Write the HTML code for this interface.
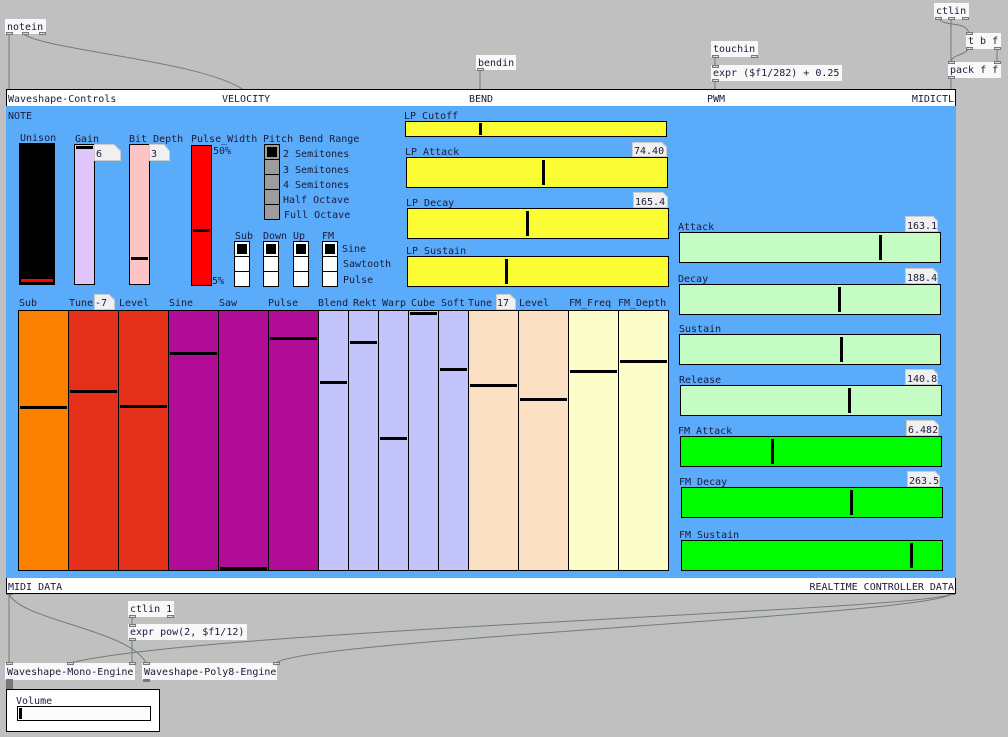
<!DOCTYPE html>
<html><head><meta charset="utf-8"><style>
html,body{margin:0;padding:0;background:#c0c0c0;}
svg{display:block}
text{font-family:"DejaVu Sans Mono","Liberation Mono",monospace;font-size:10px;fill:#1a1a3a}
</style></head><body>
<svg width="1008" height="737" viewBox="0 0 1008 737" xmlns="http://www.w3.org/2000/svg">
<rect width="1008" height="737" fill="#c0c0c0"/>
<!-- connections top -->
<g fill="none" stroke="#6f7f6f" stroke-width="1">
<line x1="9" y1="33" x2="9" y2="90"/>
<path d="M22 33 C 40 50, 200 60, 244 90"/>
<line x1="480" y1="69" x2="480" y2="90"/>
<line x1="715" y1="56" x2="715" y2="65"/>
<line x1="715" y1="80" x2="715" y2="90"/>
<line x1="951" y1="18" x2="951" y2="62"/>
<path d="M938 18 C 945 28, 965 20, 969 33"/>
<path d="M969 48 C 965 56, 952 54, 951 62"/>
<line x1="997" y1="48" x2="997" y2="62"/>
<line x1="951" y1="77" x2="951" y2="90"/>
<!-- bottom -->
<line x1="9" y1="594" x2="9" y2="663"/>
<path d="M9 594 C 20 620, 130 630, 146 663"/>
<line x1="132" y1="616" x2="132" y2="624"/>
<line x1="132" y1="639" x2="132" y2="663"/>
<path d="M951 594 C 930 610, 200 630, 70 663"/>
<path d="M951 594 C 930 615, 300 640, 276 663"/>
</g>
<!-- top objects -->
<g fill="#f8f8f8" stroke="none">
<rect x="5" y="19" width="41" height="15"/>
<rect x="476" y="55" width="40" height="15"/>
<rect x="711" y="41" width="47" height="16"/>
<rect x="711" y="65" width="131" height="16"/>
<rect x="934" y="3" width="35" height="16"/>
<rect x="966" y="33" width="35" height="16"/>
<rect x="948" y="62" width="53" height="16"/>
<rect x="128" y="601" width="46" height="16"/>
<rect x="128" y="624" width="119" height="16"/>
<rect x="5" y="663" width="130" height="17"/>
<rect x="142" y="663" width="135" height="17"/>
</g>
<text x="7" y="30">notein</text>
<text x="478" y="66">bendin</text>
<text x="713" y="52">touchin</text>
<text x="713" y="76">expr ($f1/282) + 0.25</text>
<text x="936" y="14">ctlin</text>
<text x="968" y="44">t b f</text>
<text x="950" y="73">pack f f</text>
<text x="130" y="612">ctlin 1</text>
<text x="130" y="635">expr pow(2, $f1/12)</text>
<text x="7" y="675">Waveshape-Mono-Engine</text>
<text x="144" y="675">Waveshape-Poly8-Engine</text>
<!-- inlets/outlets -->
<g fill="#ddd" stroke="#777" stroke-width="1">
<rect x="6.5" y="32.5" width="6" height="2"/><rect x="22.5" y="32.5" width="6" height="2"/><rect x="39.5" y="32.5" width="6" height="2"/>
<rect x="477.5" y="68.5" width="6" height="2"/>
<rect x="712.5" y="55.5" width="6" height="2"/><rect x="751.5" y="55.5" width="6" height="2"/>
<rect x="712.5" y="65.5" width="6" height="2"/><rect x="712.5" y="79.5" width="6" height="2"/>
<rect x="935.5" y="17.5" width="6" height="2"/><rect x="948.5" y="17.5" width="6" height="2"/><rect x="962.5" y="17.5" width="6" height="2"/>
<rect x="966.5" y="32.5" width="6" height="2"/><rect x="966.5" y="47.5" width="6" height="2"/><rect x="994.5" y="47.5" width="6" height="2"/>
<rect x="948.5" y="61.5" width="6" height="2"/><rect x="994.5" y="61.5" width="6" height="2"/><rect x="948.5" y="76.5" width="6" height="2"/>
<rect x="6.5" y="89.5" width="6" height="2"/><rect x="241.5" y="89.5" width="6" height="2"/><rect x="477.5" y="89.5" width="6" height="2"/><rect x="712.5" y="89.5" width="6" height="2"/><rect x="948.5" y="89.5" width="6" height="2"/>
<rect x="6.5" y="592.5" width="6" height="2"/><rect x="948.5" y="592.5" width="6" height="2"/>
<rect x="129.5" y="615.5" width="6" height="2"/><rect x="167.5" y="615.5" width="6" height="2"/>
<rect x="129.5" y="624.5" width="6" height="2"/><rect x="129.5" y="638.5" width="6" height="2"/>
<rect x="6.5" y="662.5" width="6" height="2"/><rect x="67.5" y="662.5" width="6" height="2"/><rect x="129.5" y="662.5" width="6" height="2"/>
<rect x="143.5" y="662.5" width="6" height="2"/><rect x="273.5" y="662.5" width="6" height="2"/>
</g>
<rect x="6" y="679" width="7" height="11" fill="#777"/>
<rect x="143" y="679" width="7" height="3" fill="#777"/>
<!-- main GOP -->
<rect x="6.5" y="89.5" width="949" height="504" fill="#fff" stroke="#000"/>
<rect x="6" y="106" width="950" height="472" fill="#5aacfa"/>
<text x="8" y="102">Waveshape-Controls</text>
<text x="222" y="102">VELOCITY</text>
<text x="469" y="102">BEND</text>
<text x="707" y="102">PWM</text>
<text x="954" y="102" text-anchor="end">MIDICTL</text>
<text x="8" y="119">NOTE</text>
<text x="8" y="590">MIDI DATA</text>
<text x="954" y="590" text-anchor="end">REALTIME CONTROLLER DATA</text>

<!-- top left sliders -->
<text x="20" y="141">Unison</text>
<rect x="19.5" y="143.5" width="35" height="141" fill="#000" stroke="#000"/>
<rect x="21" y="279" width="32" height="3" fill="#f00"/>
<text x="75" y="142">Gain</text>
<rect x="74.5" y="144.5" width="20" height="140" fill="#e0c4fc" stroke="#000"/>
<rect x="76" y="146" width="17" height="3" fill="#000"/>
<path d="M94.5 144.5 H114 L120.5 151 V160.5 H94.5 Z" fill="#f0f0f0" stroke="#ccc"/>
<text x="96" y="157">6</text>
<text x="129" y="142">Bit_Depth</text>
<rect x="129.5" y="144.5" width="20" height="140" fill="#fcc4c4" stroke="#000"/>
<rect x="131" y="257" width="17" height="3" fill="#000"/>
<path d="M149.5 144.5 H164 L169.5 151 V160.5 H149.5 Z" fill="#f0f0f0" stroke="#ccc"/>
<text x="151" y="157">3</text>
<text x="191" y="142">Pulse_Width</text>
<rect x="191.5" y="145.5" width="20" height="140" fill="#f00" stroke="#000"/>
<rect x="193" y="229" width="17" height="3" fill="#000"/>
<text x="213" y="154">50%</text>
<text x="212" y="284">5%</text>
<!-- pitch bend radio -->
<text x="263" y="142">Pitch Bend Range</text>
<g stroke="#000" fill="#9c9c9c">
<rect x="264.5" y="144.5" width="15" height="15"/><rect x="264.5" y="159.5" width="15" height="15"/><rect x="264.5" y="174.5" width="15" height="15"/><rect x="264.5" y="189.5" width="15" height="15"/><rect x="264.5" y="204.5" width="15" height="15"/>
</g>
<rect x="267" y="147" width="10" height="10" fill="#000"/>
<text x="283" y="157">2 Semitones</text>
<text x="283" y="173">3 Semitones</text>
<text x="283" y="188">4 Semitones</text>
<text x="283" y="203">Half Octave</text>
<text x="284" y="218">Full Octave</text>
<!-- small radios -->
<text x="235" y="239">Sub</text><text x="263" y="239">Down</text><text x="293" y="239">Up</text><text x="322" y="239">FM</text>
<g stroke="#000" fill="#fff">
<rect x="234.5" y="241.5" width="15" height="15"/><rect x="234.5" y="256.5" width="15" height="15"/><rect x="234.5" y="271.5" width="15" height="15"/>
<rect x="263.5" y="241.5" width="15" height="15"/><rect x="263.5" y="256.5" width="15" height="15"/><rect x="263.5" y="271.5" width="15" height="15"/>
<rect x="293.5" y="241.5" width="15" height="15"/><rect x="293.5" y="256.5" width="15" height="15"/><rect x="293.5" y="271.5" width="15" height="15"/>
<rect x="322.5" y="241.5" width="15" height="15"/><rect x="322.5" y="256.5" width="15" height="15"/><rect x="322.5" y="271.5" width="15" height="15"/>
</g>
<g fill="#000"><rect x="237" y="244" width="10" height="10"/><rect x="266" y="244" width="10" height="10"/><rect x="296" y="244" width="10" height="10"/><rect x="325" y="244" width="10" height="10"/></g>
<text x="342" y="252">Sine</text><text x="343" y="267">Sawtooth</text><text x="343" y="283">Pulse</text>

<!-- big slider bank -->
<g stroke="#000">
<rect x="18.5" y="310.5" width="50" height="260" fill="#fc8000"/>
<rect x="68.5" y="310.5" width="50" height="260" fill="#e43018"/>
<rect x="118.5" y="310.5" width="50" height="260" fill="#e43018"/>
<rect x="168.5" y="310.5" width="50" height="260" fill="#b00c98"/>
<rect x="218.5" y="310.5" width="50" height="260" fill="#b00c98"/>
<rect x="268.5" y="310.5" width="50" height="260" fill="#b00c98"/>
<rect x="318.5" y="310.5" width="30" height="260" fill="#c4c4fc"/>
<rect x="348.5" y="310.5" width="30" height="260" fill="#c4c4fc"/>
<rect x="378.5" y="310.5" width="30" height="260" fill="#c4c4fc"/>
<rect x="408.5" y="310.5" width="30" height="260" fill="#c4c4fc"/>
<rect x="438.5" y="310.5" width="30" height="260" fill="#c4c4fc"/>
<rect x="468.5" y="310.5" width="50" height="260" fill="#fce0c4"/>
<rect x="518.5" y="310.5" width="50" height="260" fill="#fce0c4"/>
<rect x="568.5" y="310.5" width="50" height="260" fill="#fcfcc8"/>
<rect x="618.5" y="310.5" width="50" height="260" fill="#fcfcc8"/>
</g>
<g fill="#000">
<rect x="20" y="406" width="47" height="3"/>
<rect x="70" y="390" width="47" height="3"/>
<rect x="120" y="405" width="47" height="3"/>
<rect x="170" y="352" width="47" height="3"/>
<rect x="220" y="567" width="47" height="3"/>
<rect x="270" y="337" width="47" height="3"/>
<rect x="320" y="381" width="27" height="3"/>
<rect x="350" y="341" width="27" height="3"/>
<rect x="380" y="437" width="27" height="3"/>
<rect x="410" y="312" width="27" height="3"/>
<rect x="440" y="368" width="27" height="3"/>
<rect x="470" y="384" width="47" height="3"/>
<rect x="520" y="398" width="47" height="3"/>
<rect x="570" y="370" width="47" height="3"/>
<rect x="620" y="360" width="47" height="3"/>
</g>
<path d="M94.5 294.5 H109 L114.5 300 V309.5 H94.5 Z" fill="#f0f0f0" stroke="#ccc"/>
<path d="M496.5 294.5 H510 L515.5 300 V309.5 H496.5 Z" fill="#f0f0f0" stroke="#ccc"/>
<text x="19" y="306">Sub</text><text x="69" y="306">Tune</text><text x="95" y="306">-7</text><text x="119" y="306">Level</text>
<text x="169" y="306">Sine</text><text x="219" y="306">Saw</text><text x="268" y="306">Pulse</text>
<text x="318" y="306">Blend</text><text x="353" y="306">Rekt</text><text x="382" y="306">Warp</text><text x="411" y="306">Cube</text><text x="441" y="306">Soft</text>
<text x="468" y="306">Tune</text><text x="497" y="306">17</text><text x="519" y="306">Level</text><text x="569" y="306">FM_Freq</text><text x="618" y="306">FM_Depth</text>

<!-- LP sliders -->
<g stroke="#000" fill="#fcfc34">
<rect x="405.5" y="121.5" width="261" height="15"/>
<rect x="406.5" y="157.5" width="261" height="30"/>
<rect x="407.5" y="208.5" width="261" height="30"/>
<rect x="407.5" y="256.5" width="261" height="30"/>
</g>
<g fill="#000">
<rect x="479" y="123" width="3" height="12"/>
<rect x="542" y="160" width="3" height="25"/>
<rect x="526" y="211" width="3" height="25"/>
<rect x="505" y="259" width="3" height="25"/>
</g>
<text x="404" y="119">LP_Cutoff</text>
<text x="405" y="155">LP_Attack</text>
<text x="406" y="206">LP_Decay</text>
<text x="406" y="254">LP_Sustain</text>
<path d="M632.5 142.5 H662 L666.5 147 V156.5 H632.5 Z" fill="#f0f0f0" stroke="#ccc"/>
<text x="634" y="154">74.40</text>
<path d="M633.5 192.5 H663 L667.5 197 V207.5 H633.5 Z" fill="#f0f0f0" stroke="#ccc"/>
<text x="635" y="205">165.4</text>

<!-- right sliders -->
<g stroke="#000">
<rect x="679.5" y="232.5" width="261" height="30" fill="#c4fcc4"/>
<rect x="679.5" y="284.5" width="261" height="30" fill="#c4fcc4"/>
<rect x="679.5" y="334.5" width="261" height="30" fill="#c4fcc4"/>
<rect x="680.5" y="385.5" width="261" height="30" fill="#c4fcc4"/>
<rect x="680.5" y="436.5" width="261" height="30" fill="#00fc00"/>
<rect x="681.5" y="487.5" width="261" height="30" fill="#00fc00"/>
<rect x="681.5" y="540.5" width="261" height="30" fill="#00fc00"/>
</g>
<g fill="#000">
<rect x="879" y="235" width="3" height="25"/>
<rect x="838" y="287" width="3" height="25"/>
<rect x="840" y="337" width="3" height="25"/>
<rect x="848" y="388" width="3" height="25"/>
<rect x="771" y="439" width="3" height="25"/>
<rect x="850" y="490" width="3" height="25"/>
<rect x="910" y="543" width="3" height="25"/>
</g>
<text x="678" y="230">Attack</text>
<text x="678" y="282">Decay</text>
<text x="679" y="332">Sustain</text>
<text x="679" y="383">Release</text>
<text x="678" y="434">FM_Attack</text>
<text x="679" y="485">FM_Decay</text>
<text x="679" y="538">FM_Sustain</text>
<g fill="#f0f0f0" stroke="#ccc">
<path d="M905.5 216.5 H933 L937.5 221 V231.5 H905.5 Z"/>
<path d="M905.5 268.5 H933 L937.5 273 V283.5 H905.5 Z"/>
<path d="M905.5 369.5 H933 L937.5 374 V384.5 H905.5 Z"/>
<path d="M906.5 420.5 H934 L938.5 425 V435.5 H906.5 Z"/>
<path d="M907.5 471.5 H935 L939.5 476 V486.5 H907.5 Z"/>
</g>
<text x="907" y="229">163.1</text>
<text x="907" y="281">188.4</text>
<text x="907" y="382">140.8</text>
<text x="908" y="433">6.482</text>
<text x="909" y="484">263.5</text>

<!-- volume -->
<rect x="6.5" y="689.5" width="153" height="42" fill="#fff" stroke="#000"/>
<text x="16" y="704">Volume</text>
<rect x="17.5" y="706.5" width="133" height="14" fill="#fcfcfc" stroke="#000"/>
<rect x="19" y="708" width="3" height="11" fill="#000"/>
</svg>
</body></html>
